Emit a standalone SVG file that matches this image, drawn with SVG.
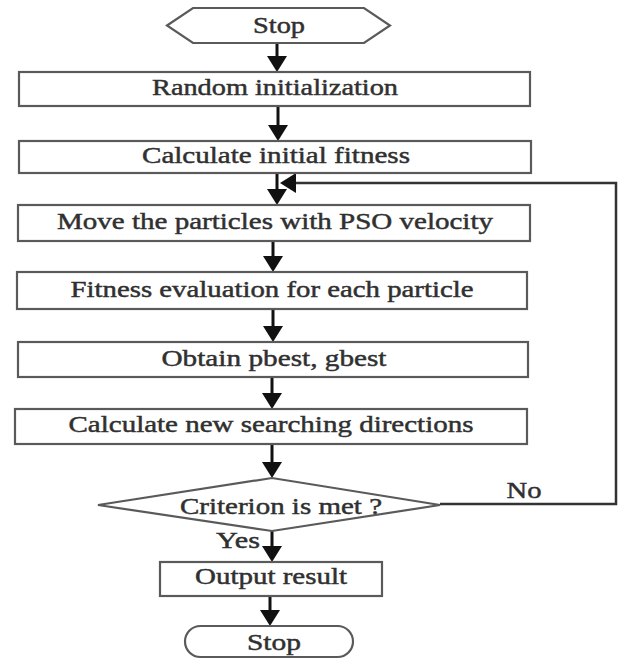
<svg xmlns="http://www.w3.org/2000/svg" width="619" height="661" viewBox="0 0 619 661">
<defs>
<style>
.shape{fill:#ffffff;stroke:#5a5a5a;stroke-width:2.2}
.lbl{font-family:"Liberation Serif","Times New Roman",serif;font-size:23px;fill:#303030;stroke:#303030;stroke-width:0.45;text-anchor:middle}
.arrow{stroke:#111;stroke-width:3;fill:none}
.loop{stroke:#333;stroke-width:2.5;fill:none}
</style>
<marker id="ah" markerUnits="userSpaceOnUse" markerWidth="16" markerHeight="20" viewBox="0 0 16 20" refX="4" refY="10" orient="auto">
<path d="M0,0 L16,10 L0,20 z" fill="#111"/>
</marker>
</defs>
<rect width="619" height="661" fill="#ffffff"/>
<g id="connectors">
<path class="arrow" d="M277,43 V60" marker-end="url(#ah)"/>
<path class="arrow" d="M278,106 V129" marker-end="url(#ah)"/>
<path class="arrow" d="M277,173 V193" marker-end="url(#ah)"/>
<path class="arrow" d="M273,241 V260" marker-end="url(#ah)"/>
<path class="arrow" d="M273,309 V330" marker-end="url(#ah)"/>
<path class="arrow" d="M272,377 V397" marker-end="url(#ah)"/>
<path class="arrow" d="M272,444 V466" marker-end="url(#ah)"/>
<path class="arrow" d="M272,531 V550" marker-end="url(#ah)"/>
<path class="arrow" d="M270,596 V614" marker-end="url(#ah)"/>
<path class="loop" d="M440,504 H616 V183 H292" marker-end="url(#ah)"/>
<text class="lbl" x="238" y="548" textLength="44" lengthAdjust="spacingAndGlyphs">Yes</text>
<text class="lbl" x="524" y="498" textLength="35" lengthAdjust="spacingAndGlyphs">No</text>
</g>
<g id="start">
<polygon class="shape" points="167,25.5 193,8 364,8 390,25.5 364,43 193,43"/>
<text class="lbl" x="279" y="33" textLength="52" lengthAdjust="spacingAndGlyphs">Stop</text>
</g>
<g id="random-init">
<rect class="shape" x="19" y="72" width="511" height="34"/>
<text class="lbl" x="275" y="95" textLength="246" lengthAdjust="spacingAndGlyphs">Random initialization</text>
</g>
<g id="initial-fitness">
<rect class="shape" x="19" y="141" width="512" height="32"/>
<text class="lbl" x="276" y="163" textLength="268" lengthAdjust="spacingAndGlyphs">Calculate initial fitness</text>
</g>
<g id="move-particles">
<rect class="shape" x="18" y="205" width="512" height="36"/>
<text class="lbl" x="275" y="229" textLength="436" lengthAdjust="spacingAndGlyphs">Move the particles with PSO velocity</text>
</g>
<g id="fitness-eval">
<rect class="shape" x="17" y="272" width="510" height="37"/>
<text class="lbl" x="272" y="297" textLength="403" lengthAdjust="spacingAndGlyphs">Fitness evaluation for each particle</text>
</g>
<g id="obtain-best">
<rect class="shape" x="18" y="342" width="510" height="35"/>
<text class="lbl" x="274" y="366" textLength="225" lengthAdjust="spacingAndGlyphs">Obtain pbest, gbest</text>
</g>
<g id="new-directions">
<rect class="shape" x="15" y="409" width="512" height="35"/>
<text class="lbl" x="271" y="432" textLength="405" lengthAdjust="spacingAndGlyphs">Calculate new searching directions</text>
</g>
<g id="criterion">
<polygon class="shape" points="98,505 272,478 440,505 272,531"/>
<text class="lbl" x="281" y="514" textLength="202" lengthAdjust="spacingAndGlyphs">Criterion is met ?</text>
</g>
<g id="output">
<rect class="shape" x="160" y="562" width="222" height="34"/>
<text class="lbl" x="271" y="584" textLength="152" lengthAdjust="spacingAndGlyphs">Output result</text>
</g>
<g id="stop">
<rect class="shape" x="185" y="626" width="168" height="31" rx="15.5" ry="15.5"/>
<text class="lbl" x="274" y="650" textLength="54" lengthAdjust="spacingAndGlyphs">Stop</text>
</g>
</svg>
